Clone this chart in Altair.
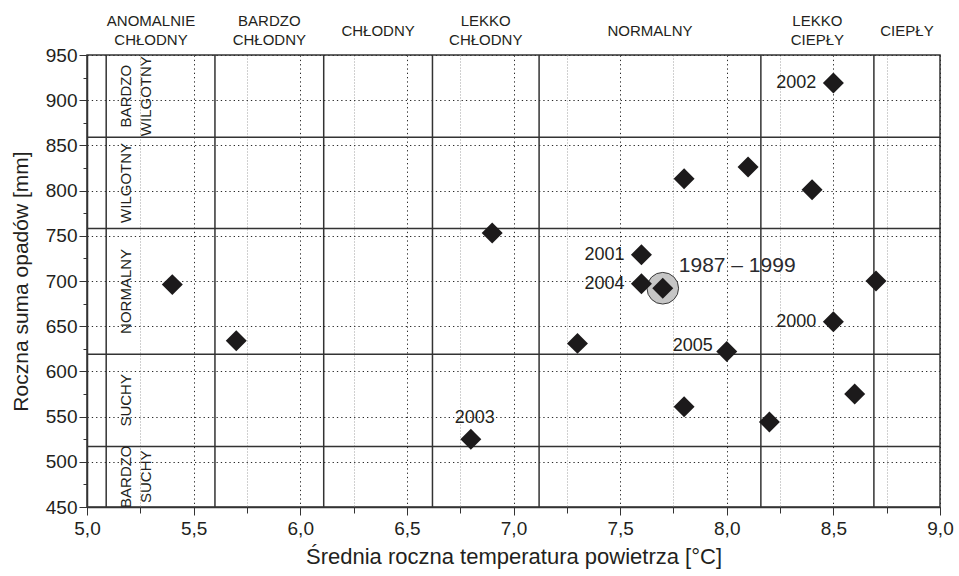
import altair as alt
import pandas as pd

# Annual mean air temperature [°C] and annual precipitation total [mm]
temp = [5.4, 5.7, 6.8, 6.9, 7.3, 7.6, 7.6, 7.8, 7.8, 8.0, 8.1, 8.2, 8.4, 8.5, 8.5, 8.6, 8.7]
precip = [696, 634, 525, 753, 631, 729, 697, 813, 561, 622, 826, 544, 801, 919, 655, 575, 700]
year = ["", "", "2003", "", "", "2001", "2004", "", "", "2005", "", "", "", "2002", "2000", "", ""]

# Multi-year mean
period_name = ["1987 – 1999"]
period_temp = [7.7]
period_precip = [692]

# Thermal class limits [°C] and class names
thermal_limits = [5.09, 5.60, 6.11, 6.62, 7.12, 8.16, 8.69]
thermal_names = [["ANOMALNIE", "CHŁODNY"], ["BARDZO", "CHŁODNY"], ["CHŁODNY"],
                 ["LEKKO", "CHŁODNY"], ["NORMALNY"], ["LEKKO", "CIEPŁY"], ["CIEPŁY"]]

# Precipitation class limits [mm] and class names
pluvial_limits = [517, 619, 758, 859]
pluvial_names = [["BARDZO", "SUCHY"], ["SUCHY"], ["NORMALNY"], ["WILGOTNY"], ["BARDZO", "WILGOTNY"]]

x_domain = [5.0, 9.0]
y_domain = [450, 950]
x_ticks = [5.0, 5.25, 5.5, 5.75, 6.0, 6.25, 6.5, 6.75, 7.0, 7.25, 7.5, 7.75, 8.0, 8.25, 8.5, 8.75, 9.0]
y_ticks = [450, 475, 500, 525, 550, 575, 600, 625, 650, 675, 700, 725, 750, 775, 800, 825, 850, 875, 900, 925, 950]

FONT = "Liberation Sans"
INK = "#231f20"
LINE = "#333333"

# label anchors: middle of each class column / band
col_edges = [x_domain[0]] + thermal_limits[1:] + [x_domain[1]]
col_mid = [(a + b) / 2 for a, b in zip(col_edges[:-1], col_edges[1:])]
band_edges = [y_domain[0]] + pluvial_limits + [y_domain[1]]
band_mid = [(a + b) / 2 for a, b in zip(band_edges[:-1], band_edges[1:])]

points = pd.DataFrame({"t": temp, "p": precip, "rok": year})
period = pd.DataFrame({"t": period_temp, "p": period_precip, "okres": period_name})
vlim = pd.DataFrame({"t": thermal_limits})
hlim = pd.DataFrame({"p": pluvial_limits})
cols = pd.DataFrame({"t": col_mid, "name": thermal_names, "lines": [len(n) for n in thermal_names]})
bands = pd.DataFrame({"p": band_mid, "name": pluvial_names})

xs = alt.Scale(domain=x_domain, nice=False, zero=False)
ys = alt.Scale(domain=y_domain, nice=False, zero=False)

major_x = "abs(datum.value * 2 - round(datum.value * 2)) < 0.001"
major_y = "datum.value % 50 == 0"

x_axis = alt.Axis(
    values=x_ticks,
    title="Średnia roczna temperatura powietrza [°C]",
    labelExpr=f"{major_x} ? replace(format(datum.value, '.1f'), '.', ',') : ''",
    labelFlush=False, labelOverlap=False,
    labelFont=FONT, labelFontSize=19, labelColor=INK, labelPadding=4,
    tickSize={"condition": {"test": major_x, "value": 8}, "value": 6},
    tickColor=LINE, tickWidth=1,
    domainColor=LINE, domainWidth=1.5,
    grid=True,
    gridColor={"condition": {"test": major_x, "value": "#2b2b2b"}, "value": "#a0a0a0"},
    gridDash={"condition": {"test": major_x, "value": [1.3, 3]}, "value": [1, 2]},
    gridWidth=1,
    titleFont=FONT, titleFontSize=22, titleFontWeight="normal", titleColor=INK,
    titleX=426.5, titleY=49, titleAlign="center", titleBaseline="middle",
)
y_axis = alt.Axis(
    values=y_ticks,
    title="Roczna suma opadów [mm]",
    labelExpr=f"{major_y} ? datum.label : ''",
    labelOverlap=False, labelFlush=False,
    labelFont=FONT, labelFontSize=19, labelColor=INK, labelPadding=2,
    tickSize={"condition": {"test": major_y, "value": 8}, "value": 4},
    tickColor=LINE, tickWidth=1,
    domainColor=LINE, domainWidth=1.5,
    grid=True,
    gridColor="#2b2b2b",
    gridOpacity={"condition": {"test": major_y, "value": 1}, "value": 0},
    gridDash=[1.3, 3], gridWidth=1,
    titleFont=FONT, titleFontSize=21, titleFontWeight="normal", titleColor=INK,
    titleX=-66, titleY=226, titleAngle=-90, titleAlign="center", titleBaseline="middle",
)

X = alt.X("t:Q", scale=xs, axis=x_axis)
Y = alt.Y("p:Q", scale=ys, axis=y_axis)

vrules = alt.Chart(vlim).mark_rule(color=LINE, strokeWidth=1.5).encode(x=X)
hrules = alt.Chart(hlim).mark_rule(color=LINE, strokeWidth=1.5).encode(y=Y)

circle = alt.Chart(period).mark_point(
    shape="circle", filled=True, size=1000, fill="#c6c6c6", stroke="#3a3a3a",
    strokeWidth=1, opacity=1, fillOpacity=1, strokeOpacity=1
).encode(x=X, y=Y)

diamonds = alt.Chart(points).mark_point(
    shape="diamond", filled=True, size=440, color="#1c1a1b", opacity=1
).encode(x=X, y=Y)

period_diamond = alt.Chart(period).mark_point(
    shape="diamond", filled=True, size=440, color="#1c1a1b", opacity=1
).encode(x=X, y=Y)


def year_labels(names, **style):
    return alt.Chart(points).transform_filter(
        alt.FieldOneOfPredicate(field="rok", oneOf=names)
    ).mark_text(font=FONT, fontSize=18, color=INK, **style).encode(x=X, y=Y, text="rok:N")


lab_left = year_labels(["2002", "2001", "2004", "2000"], align="right", baseline="middle", dx=-17)
lab_2005 = year_labels(["2005"], align="right", baseline="middle", dx=-14, dy=-6)
lab_2003 = year_labels(["2003"], align="center", baseline="middle", dx=4, dy=-21)

period_text = alt.Chart(period).mark_text(
    font=FONT, fontSize=21, color="#2a2a2e", align="left", baseline="middle", dx=16, dy=-22
).encode(x=X, y=Y, text="okres:N")

# class names above the frame: two-line names start higher than one-line names
col_style = dict(font=FONT, fontSize=15, color=INK, align="center", baseline="middle", lineHeight=19)
col_text2 = alt.Chart(cols).transform_filter("datum.lines == 2").mark_text(**col_style).encode(
    x=X, y=alt.value(-34), text="name:N")
col_text1 = alt.Chart(cols).transform_filter("datum.lines == 1").mark_text(**col_style).encode(
    x=X, y=alt.value(-24), text="name:N")

band_text = alt.Chart(bands).mark_text(
    font=FONT, fontSize=15, color=INK, align="center", baseline="top", angle=270, lineHeight=20
).encode(x=alt.X(datum=5.15, scale=xs, axis=x_axis), y=Y, text="name:N")

chart = alt.layer(
    vrules, hrules, circle, diamonds, period_diamond,
    lab_left, lab_2005, lab_2003, period_text, col_text2, col_text1, band_text,
).properties(
    width=853, height=452,
    autosize=alt.AutoSizeParams(type="none"),
    padding={"left": 87, "top": 55, "right": 19, "bottom": 69},
    background="white",
).configure_view(stroke=LINE, strokeWidth=1.5)

chart.save("out.html", embed_options={"renderer": "svg", "actions": False})
